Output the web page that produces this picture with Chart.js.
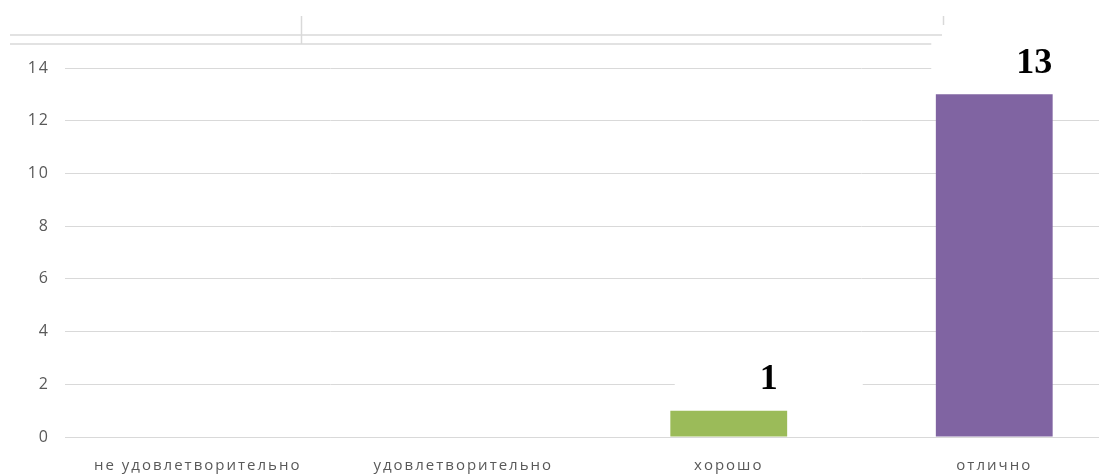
<!DOCTYPE html>
<html>
<head>
<meta charset="utf-8">
<script src="https://cdn.jsdelivr.net/npm/chart.js@4/dist/chart.umd.min.js"></script>
<style>
  html, body { margin: 0; padding: 0; background: #fff; overflow: hidden; }
</style>
</head>
<body>
<canvas id="gradesChart" width="1130" height="476"></canvas>
<script>
// Data
const categories = ['не удовлетворительно', 'удовлетворительно', 'хорошо', 'отлично'];
const counts = [0, 0, 1, 13];
const yTicks = [0, 2, 4, 6, 8, 10, 12, 14];

const barColors = ['#4F81BD', '#C0504D', '#9BBB59', '#8064A2'];
const gridColor = '#d9d9d9';

// the axis text in the original is widely spaced
const spacedText = {
    id: 'spacedText',
    beforeDraw(chart) {
        chart.ctx.letterSpacing = '2px';
    }
};

// leftover table borders above the chart
const topLines = {
    id: 'topLines',
    beforeDatasetsDraw(chart) {
        const c = chart.ctx;
        c.save();
        c.strokeStyle = gridColor;
        c.lineWidth = 1.5;
        c.beginPath();
        c.moveTo(10, 35); c.lineTo(942, 35);
        c.moveTo(10, 44); c.lineTo(942, 44);
        c.moveTo(301.5, 16); c.lineTo(301.5, 44);
        c.moveTo(943.5, 16); c.lineTo(943.5, 25);
        c.stroke();
        c.restore();
    }
};

// big bold value labels on a white box, to the upper right of each bar
const valueLabels = {
    id: 'valueLabels',
    afterDatasetsDraw(chart) {
        const c = chart.ctx;
        const meta = chart.getDatasetMeta(0);
        c.save();
        c.letterSpacing = '0px';
        c.font = 'bold 36px "Liberation Serif", "Times New Roman", serif';
        c.textAlign = 'center';
        c.textBaseline = 'middle';
        meta.data.forEach((bar, i) => {
            const v = counts[i];
            if (!v) return;
            const x = bar.x + 40;
            const y = bar.y - 33;
            const w = c.measureText(String(v)).width + 170;
            c.fillStyle = '#fff';
            c.fillRect(x - w / 2, y - 22, w, 44);
            c.fillStyle = '#000';
            c.fillText(String(v), x, y + 2);
        });
        c.restore();
    }
};

new Chart(document.getElementById('gradesChart').getContext('2d'), {
    type: 'bar',
    data: {
        labels: categories,
        datasets: [{
            data: counts,
            backgroundColor: barColors,
            borderWidth: 0,
            categoryPercentage: 1,
            barPercentage: 0.44
        }]
    },
    options: {
        responsive: false,
        animation: false,
        layout: { padding: { top: 68, right: 3, left: 0, bottom: 0 } },
        plugins: {
            legend: { display: false },
            tooltip: { enabled: false }
        },
        scales: {
            x: {
                grid: { display: false, drawTicks: false },
                border: { color: gridColor },
                ticks: {
                    color: '#595959',
                    font: { family: '"Open Sans", sans-serif', size: 15 },
                    padding: 20,
                    maxRotation: 0,
                    autoSkip: false
                },
                afterFit(scale) { scale.height = 39; }
            },
            y: {
                min: 0,
                max: 14,
                afterBuildTicks(scale) { scale.ticks = yTicks.map(v => ({ value: v })); },
                grid: { color: gridColor, drawTicks: false },
                border: { display: false },
                ticks: {
                    color: '#595959',
                    font: { family: '"Open Sans", sans-serif', size: 16 },
                    padding: 15
                },
                afterFit(scale) { scale.width = 65; }
            }
        }
    },
    plugins: [spacedText, topLines, valueLabels]
});
</script>
</body>
</html>
